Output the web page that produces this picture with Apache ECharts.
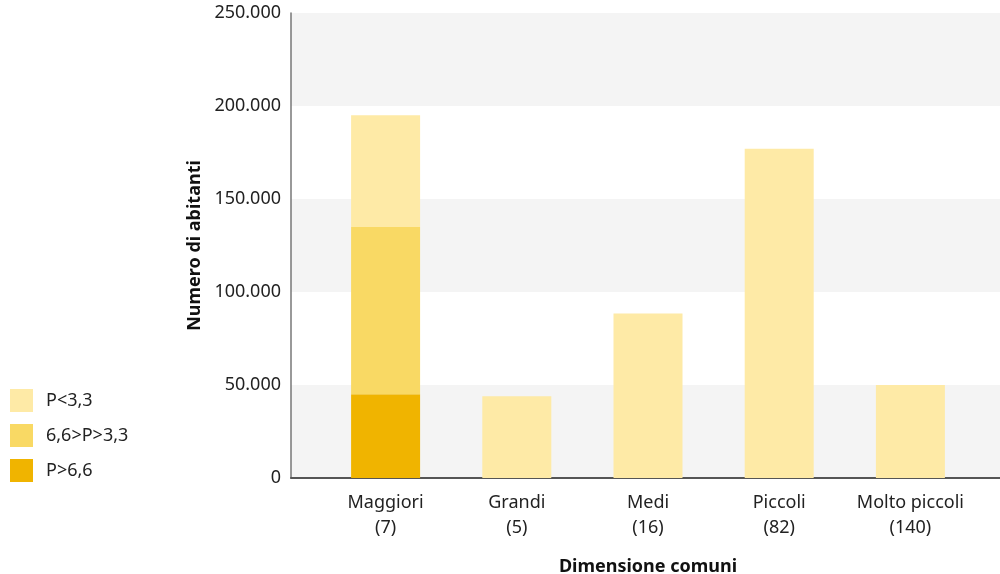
<!DOCTYPE html>
<html><head><meta charset="utf-8">
<script src="https://cdn.jsdelivr.net/npm/echarts@6/dist/echarts.min.js"></script>
<style>html,body{margin:0;padding:0;background:#fff}#c{width:1000px;height:574px}</style>
</head><body><div id="c"></div>
<script>
const categories = ['Maggiori\n(7)', 'Grandi\n(5)', 'Medi\n(16)', 'Piccoli\n(82)', 'Molto piccoli\n(140)'];
const seriesNames = ['P<3,3', '6,6>P>3,3', 'P>6,6'];
const valuesHigh = [45000, 0, 0, 0, 0];        // P>6,6
const valuesMid = [90000, 0, 0, 0, 0];         // 6,6>P>3,3
const valuesLow = [60000, 44000, 88500, 177000, 50000]; // P<3,3
const colors = {'P<3,3': '#FEEAA6', '6,6>P>3,3': '#F9D964', 'P>6,6': '#F0B400'};
const FONT = 'Noto Sans';

const chart = echarts.init(document.getElementById('c'), null, {renderer: 'canvas'});
const fmt = v => v === 0 ? '0' : v.toLocaleString('it-IT').replace(/,/g, '.');
const toNull = arr => arr.map(v => v === 0 ? null : v);

chart.setOption({
  animation: false,
  textStyle: {fontFamily: FONT},
  legend: {
    orient: 'vertical', left: 10, top: 389, padding: 0,
    itemWidth: 23, itemHeight: 23, itemGap: 12,
    icon: 'rect',
    data: seriesNames,
    textStyle: {fontFamily: FONT, fontSize: 18, color: '#222', padding: [0, 0, 0, 8]}
  },
  grid: [
    {left: 291, right: 0, top: 13, bottom: 96, outerBoundsMode: 'none', containLabel: false},
    {left: 320, right: 24, top: 13, bottom: 96, outerBoundsMode: 'none', containLabel: false}
  ],
  xAxis: [
    {type: 'category', gridIndex: 0, data: [''], axisLabel: {show: false}, axisTick: {show: false},
     axisLine: {lineStyle: {color: '#555', width: 2}}},
    {type: 'category', gridIndex: 1, data: categories,
     axisLine: {show: false}, axisTick: {show: false},
     axisLabel: {interval: 0, fontFamily: FONT, fontSize: 18, color: '#222', margin: 12, lineHeight: 25},
     name: 'Dimensione comuni', nameLocation: 'middle', nameGap: 80,
     nameTextStyle: {fontFamily: FONT, fontSize: 18, fontWeight: 'bold', color: '#111'}}
  ],
  yAxis: [
    {type: 'value', gridIndex: 0, min: 0, max: 250000, interval: 50000,
     axisLine: {show: true, lineStyle: {color: '#777', width: 1.5}},
     axisTick: {show: false},
     splitLine: {show: false},
     splitArea: {show: true, areaStyle: {color: ['#F4F4F4', '#FFFFFF']}},
     axisLabel: {fontFamily: FONT, fontSize: 18, color: '#222', margin: 10, formatter: fmt},
     name: 'Numero di abitanti', nameLocation: 'middle', nameGap: 86, nameRotate: 90,
     nameTextStyle: {fontFamily: FONT, fontSize: 18, fontWeight: 'bold', color: '#111'}},
    {type: 'value', gridIndex: 1, min: 0, max: 250000, interval: 50000, show: false,
     splitLine: {show: false}}
  ],
  series: [
    {name: 'P>6,6', type: 'bar', stack: 's', xAxisIndex: 1, yAxisIndex: 1, barWidth: 69,
     itemStyle: {color: colors['P>6,6']}, data: toNull(valuesHigh)},
    {name: '6,6>P>3,3', type: 'bar', stack: 's', xAxisIndex: 1, yAxisIndex: 1, barWidth: 69,
     itemStyle: {color: colors['6,6>P>3,3']}, data: toNull(valuesMid)},
    {name: 'P<3,3', type: 'bar', stack: 's', xAxisIndex: 1, yAxisIndex: 1, barWidth: 69,
     itemStyle: {color: colors['P<3,3']}, data: toNull(valuesLow)}
  ]
});
</script></body></html>
